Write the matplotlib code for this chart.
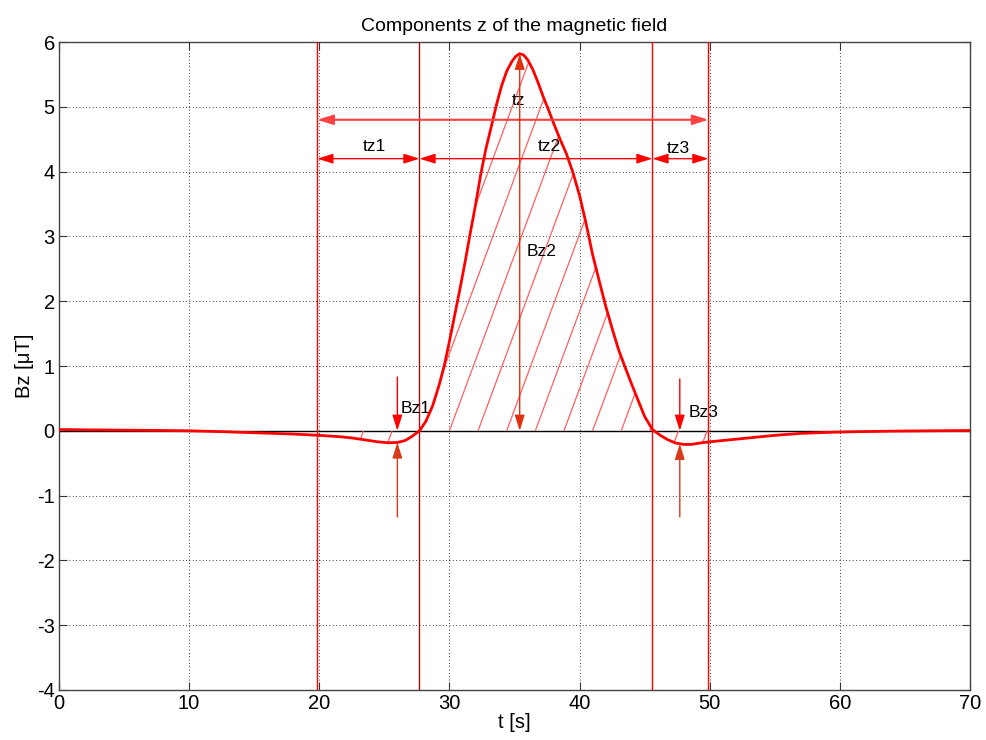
import numpy as np
import matplotlib.pyplot as plt
from matplotlib import rcParams

rcParams['font.family'] = ['Liberation Sans', 'DejaVu Sans']
rcParams['axes.unicode_minus'] = False
rcParams['xtick.direction'] = 'in'
rcParams['ytick.direction'] = 'in'

# measured signal (time [s], Bz [uT])
t = [0, 2, 5, 8, 10, 12, 15, 18, 20, 21.5, 22.5, 23.5, 24.5, 25.3, 26.0, 26.6,
     27.1, 27.7, 28.2, 28.7, 29.2, 29.6, 30.0, 30.4, 30.8, 31.2, 31.6, 32.0,
     32.4, 32.8, 33.2, 33.6, 34.0, 34.4, 34.8, 35.1, 35.4, 35.7, 36.0, 36.4,
     36.8, 37.2, 37.6, 38.0, 38.5, 39.0, 39.5, 40.0, 40.5, 41.0, 41.5, 42.0,
     42.5, 43.0, 43.5, 44.0, 44.5, 45.0, 45.6, 46.2, 46.8, 47.4, 48.0, 48.6,
     49.2, 50.0, 51.5, 53.0, 55.0, 57.0, 59.0, 61.0, 64.0, 67.0, 70.0]
bz = [0.02, 0.015, 0.01, 0.005, 0.0, -0.01, -0.03, -0.05, -0.07, -0.09, -0.11,
      -0.14, -0.17, -0.185, -0.18, -0.15, -0.09, 0.0, 0.15, 0.38, 0.70, 1.0,
      1.38, 1.78, 2.18, 2.6, 3.05, 3.48, 3.95, 4.35, 4.68, 5.02, 5.32, 5.55,
      5.70, 5.78, 5.82, 5.80, 5.73, 5.58, 5.38, 5.16, 4.96, 4.75, 4.50, 4.27,
      3.98, 3.63, 3.2, 2.72, 2.32, 1.93, 1.58, 1.25, 0.98, 0.72, 0.47, 0.22,
      0.02, -0.07, -0.14, -0.19, -0.21, -0.21, -0.19, -0.17, -0.14, -0.11,
      -0.07, -0.04, -0.025, -0.015, -0.005, 0.0, 0.005]

# characteristic times / amplitudes
t_start, t_up, t_peak, t_down, t_end = 19.85, 27.7, 35.4, 45.6, 49.9
bz_peak = 5.82
t_bz1, bz1 = 26.0, -0.18
t_bz3, bz3 = 47.7, -0.2
y_tz, y_tzi = 4.8, 4.2

xticks = np.arange(0, 71, 10)
yticks = np.arange(-4, 7, 1)

t = np.array(t)
bz = np.array(bz)

fig = plt.figure(figsize=(9.86, 7.4), dpi=100)
ax = fig.add_axes([0.0598, 0.0676, 0.924, 0.8756])

# baseline
ax.axhline(0, color='black', lw=1.0, zorder=2)

# hatched area between curve and zero
mask = (t >= 22.5) & (t <= 50.0)
area = ax.fill_between(t[mask], bz[mask], 0, facecolor='none', edgecolor='none')
clip = area.get_paths()[0]
k = (64.8 / 13.014) / 2.7
for x0 in np.arange(19.0, 50.0, 2.2):
    yy = np.array([-1.0, 7.0])
    ln, = ax.plot(x0 + yy * k, yy, color='#ff6060', lw=0.9, zorder=2)
    ln.set_clip_path(clip, transform=ax.transData)

# vertical markers
for xv in [t_start, t_down, t_end]:
    ax.axvline(xv, color='red', lw=1.0, zorder=3)
ax.axvline(t_up, color='#a01010', lw=1.0, zorder=3)

# signal
ax.plot(t, bz, color='red', lw=2.0, zorder=4)

head = '<|-|>,head_length=0.95,head_width=0.3'
one = '-|>,head_length=0.95,head_width=0.3'


def arrow(x0, y0, x1, y1, style, color='red', lw=1.0):
    ax.annotate('', xy=(x1, y1), xytext=(x0, y0),
                arrowprops=dict(arrowstyle=style, color=color, lw=lw,
                                shrinkA=0, shrinkB=0), zorder=5)


arrow(t_start, y_tz, t_end, y_tz, head, color='#ff4040', lw=1.5)
arrow(t_start, y_tzi, t_up, y_tzi, head)
arrow(t_up, y_tzi, t_down, y_tzi, head)
arrow(t_down, y_tzi, t_end, y_tzi, head)
arrow(t_peak, 0, t_peak, bz_peak, head, color='#e03010')

arrow(t_bz1, 0.83, t_bz1, 0, one)
arrow(t_bz1, -1.33, t_bz1, bz1, one, color='#d83a1a')
arrow(t_bz3, 0.8, t_bz3, 0, one)
arrow(t_bz3, -1.33, t_bz3, bz3, one, color='#d83a1a')

fs = 12.5
ax.text(35.3, 5.1, 'tz', fontsize=fs, ha='center', va='center')
ax.text(24.2, 4.39, 'tz1', fontsize=fs, ha='center', va='center')
ax.text(37.7, 4.39, 'tz2', fontsize=fs, ha='center', va='center')
ax.text(47.6, 4.36, 'tz3', fontsize=fs, ha='center', va='center')
ax.text(37.1, 2.77, 'Bz2', fontsize=fs, ha='center', va='center')
ax.text(27.4, 0.35, 'Bz1', fontsize=fs, ha='center', va='center')
ax.text(49.5, 0.28, 'Bz3', fontsize=fs, ha='center', va='center')

ax.set_xlim(0, 70)
ax.set_ylim(-4, 6)
ax.set_xticks(xticks)
ax.set_yticks(yticks)
ax.tick_params(labelsize=14.5, length=6, width=0.8, top=True, right=True,
               color='#333333', pad=3)
ax.grid(True, color='black', linestyle=(0, (1, 3)), lw=0.6)
for s in ax.spines.values():
    s.set_color('#444444')
    s.set_linewidth(1.0)

ax.set_title('Components z of the magnetic field', fontsize=14, pad=8)
ax.set_xlabel('t [s]', fontsize=14.5, labelpad=0)
ax.set_ylabel('Bz [\u03bcT]', fontsize=14.5, labelpad=2)

fig.savefig('out.png', dpi=100)
